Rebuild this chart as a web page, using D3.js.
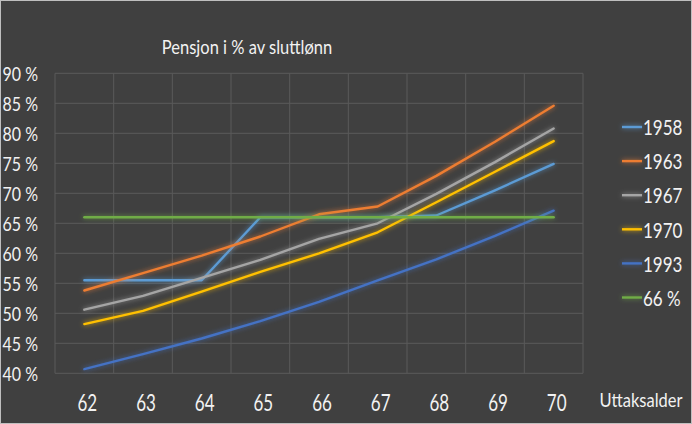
<!DOCTYPE html>
<html><head><meta charset="utf-8">
<script src="https://cdn.jsdelivr.net/npm/d3@7"></script>
<style>html,body{margin:0;padding:0;background:#404040;}svg{display:block;}</style>
</head><body>
<svg id="c" width="692" height="424"></svg>
<script>
const categories = ["62","63","64","65","66","67","68","69","70"];
const seriesNames = ["1958","1963","1967","1970","1993","66 %"];
const s1958 = [55.5, 55.5, 55.5, 66.0, 66.0, 66.0, 66.3, 70.5, 74.9];
const s1963 = [53.8, 56.7, 59.6, 62.8, 66.5, 67.8, 72.9, 78.6, 84.6];
const s1967 = [50.6, 52.9, 55.9, 58.9, 62.4, 65.0, 69.9, 75.2, 80.8];
const s1970 = [48.2, 50.4, 53.6, 56.9, 60.0, 63.5, 68.5, 73.6, 78.7];
const s1993 = [40.7, 43.2, 45.8, 48.7, 51.9, 55.5, 59.0, 62.9, 67.1];
const s66   = [66, 66, 66, 66, 66, 66, 66, 66, 66];
const yTicks = [40, 45, 50, 55, 60, 65, 70, 75, 80, 85, 90];
const colors = ["#5B9BD5","#ED7D31","#A5A5A5","#FFC000","#4472C4","#70AD47"];
const allSeries = [s1958, s1963, s1967, s1970, s1993, s66];

const svg = d3.select("#c");
const W = 692, H = 424;
svg.append("rect").attr("x",0.5).attr("y",0.5).attr("width",W-1).attr("height",H-1)
  .attr("fill","#404040").attr("stroke","#bfbfbf").attr("stroke-width",1);

const defs = svg.append("defs");
const f = defs.append("filter").attr("id","glow").attr("filterUnits","userSpaceOnUse")
  .attr("x",0).attr("y",0).attr("width",W).attr("height",H);
f.append("feGaussianBlur").attr("in","SourceGraphic").attr("stdDeviation",2.6).attr("result","b");
f.append("feComponentTransfer").attr("in","b").attr("result","b2")
  .append("feFuncA").attr("type","linear").attr("slope",0.8);
const m = f.append("feMerge");
m.append("feMergeNode").attr("in","b2");
m.append("feMergeNode").attr("in","SourceGraphic");

const L = 55, R = 583, T = 73.3, B = 373.3;
const x = d3.scaleBand().domain(categories).range([L, R]).padding(0);
const y = d3.scaleLinear().domain([40, 90]).range([B, T]);
const font = "Lato, 'Open Sans', sans-serif";
const txt = "#f2f2f2";
const SY = 1.18;

function label(px, py, t, size, anchor, sy) {
  const g = svg.append("g").attr("transform", `translate(${px},${py}) scale(1,${sy})`);
  g.append("text").attr("x",0).attr("y",0).attr("text-anchor",anchor)
    .attr("dominant-baseline","central")
    .attr("font-family",font).attr("font-size",size).attr("fill",txt).text(t);
}

// gridlines
const grid = svg.append("g");
grid.selectAll("line.h").data(yTicks).join("line")
  .attr("x1",L).attr("x2",R).attr("y1",d=>y(d)).attr("y2",d=>y(d))
  .attr("stroke","#5a5a5a").attr("stroke-width",1);
const bounds = categories.map(c => x(c)).concat([R]);
grid.selectAll("line.v").data(bounds).join("line")
  .attr("x1",d=>d).attr("x2",d=>d).attr("y1",T).attr("y2",B)
  .attr("stroke","#5a5a5a").attr("stroke-width",1);

// y labels
yTicks.forEach(v => label(38, y(v)+1, v + " %", 16, "end", SY));
// x labels
categories.forEach(c => label(x(c)+x.bandwidth()/2+3, 403, c, 17, "middle", 1.3));

// title
label(247, 46, "Pensjon i % av sluttlønn", 16.5, "middle", SY);
// axis title
label(641, 399, "Uttaksalder", 16.5, "middle", SY);

// lines
const line = d3.line().x((d,i)=>x(categories[i])+x.bandwidth()/2).y(d=>y(d));
const lg = svg.append("g");
allSeries.forEach((s, k) => {
  lg.append("path").datum(s).attr("d", line).attr("fill","none")
    .attr("stroke", colors[k]).attr("stroke-width",2.4)
    .attr("stroke-linejoin","round").attr("stroke-linecap","round")
    .attr("filter","url(#glow)");
});

// legend
seriesNames.forEach((n, k) => {
  const ly = 127 + k*34.1;
  svg.append("line").attr("x1",622).attr("x2",642).attr("y1",ly).attr("y2",ly)
    .attr("stroke",colors[k]).attr("stroke-width",2.4).attr("filter","url(#glow)");
  label(643, ly, n, 17, "start", 1.25);
});
</script>
</body></html>
